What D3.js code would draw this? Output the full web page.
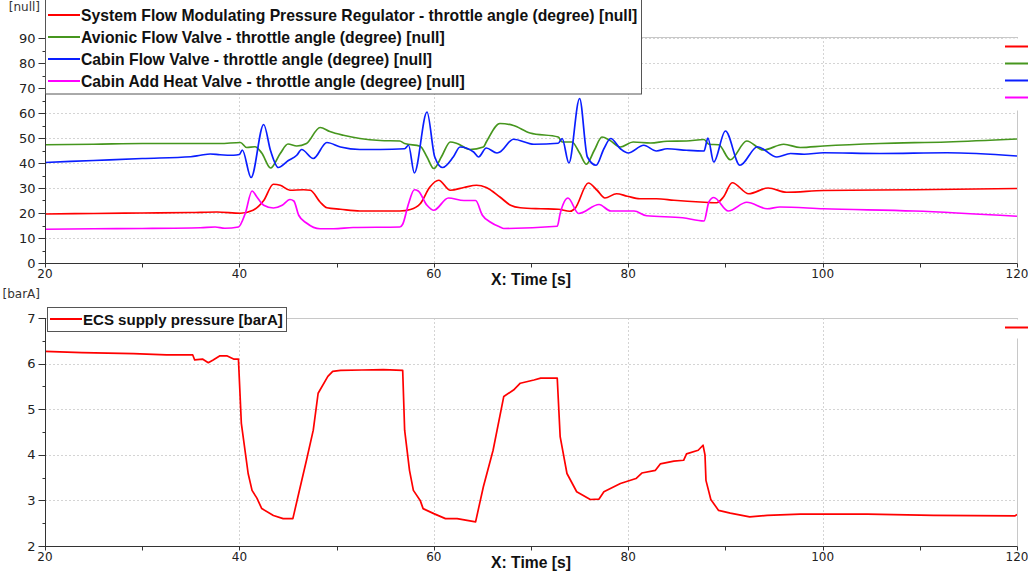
<!DOCTYPE html>
<html>
<head>
<meta charset="utf-8">
<script src="https://cdn.jsdelivr.net/npm/d3@7"></script>
<style>
  body { margin: 0; background: #fff; }
  svg { display: block; font-family: "DejaVu Sans", Verdana, sans-serif; }
  .bold { font-family: "Liberation Sans", Arial, sans-serif; font-weight: bold; }
</style>
</head>
<body>
<div id="chart"></div>
<script>
// --- data: [time s, value] ---
const sfmpr = [[20,19.6],[25,19.8],[30,20.0],[35,20.2],[37.7,20.4],[40.1,19.9],[41.4,21.1],[42.5,25.0],[43.5,31.5],[44.2,31.1],[45.2,29.1],[46.6,29.3],[47.3,29.1],[48.3,24.4],[49.0,22.1],[50.4,21.5],[52.4,20.8],[56.5,20.8],[57.6,21.4],[58.6,23.7],[59.6,30.4],[60.5,33.1],[61.7,29.1],[63.1,30.2],[64.4,31.1],[65.4,30.2],[66.8,26.4],[67.9,23.1],[68.9,22.1],[71.0,21.7],[72.8,21.5],[74.0,20.7],[74.5,21.7],[75.9,32.0],[76.8,29.1],[77.6,26.0],[78.8,27.7],[79.9,26.7],[81.2,25.7],[82.9,25.7],[84.7,25.1],[87.4,24.4],[89.1,24.1],[89.8,26.4],[90.7,32.1],[92.4,27.7],[94.4,30.0],[96.3,28.3],[100.1,29.0],[109.4,29.3],[120,29.8]];
const avionicFlow = [[20,47.3],[25,47.5],[30,47.8],[35,47.8],[38,47.8],[40.1,48.2],[40.75,46.2],[41.6,46.5],[42.3,44.0],[43.2,38.0],[44.2,43.8],[45.0,47.6],[45.9,46.8],[46.9,47.8],[48.3,54.2],[49.3,52.6],[50.7,51.1],[52.4,49.8],[54.5,49.0],[56.5,48.8],[57.0,47.8],[58.6,46.7],[59.3,42.4],[60.0,37.8],[60.8,42.6],[61.7,48.4],[62.4,47.8],[63.7,45.4],[65.1,46.4],[65.4,48.4],[66.8,55.8],[68.2,55.0],[69.9,52.0],[72.8,50.4],[73.2,48.4],[74.2,48.4],[75.0,44.0],[75.7,39.5],[76.5,45.0],[77.3,50.4],[78.1,49.1],[79.2,46.4],[80.5,48.4],[82.3,48.0],[84.0,48.7],[86.0,48.8],[87.8,49.4],[88.3,47.5],[89.3,47.3],[90.5,41.3],[92.2,48.8],[93.9,45.2],[96.0,47.5],[97.7,46.2],[100.1,46.8],[105.9,47.8],[112.8,48.4],[120,49.6]];
const cabinFlow = [[20,40.2],[25,41.0],[30,41.8],[35,42.5],[36,43.1],[37,43.6],[38,43.3],[39.4,43.1],[40.0,43.4],[40.3,45.2],[41.2,34.2],[42.5,55.4],[43.2,45.0],[44.0,38.2],[45.0,40.9],[45.9,43.1],[46.4,45.4],[47.6,41.8],[49.0,48.2],[50.4,46.4],[52.4,45.4],[54.5,45.4],[57.0,45.7],[57.4,47.1],[58.0,36.0],[59.3,60.4],[60.1,42.4],[60.9,38.2],[62.0,42.4],[62.7,46.4],[64.1,44.4],[64.6,42.4],[65.4,46.0],[66.5,44.0],[66.8,44.4],[68.2,49.5],[70.3,47.5],[72.8,47.9],[73.2,49.8],[73.9,40.0],[75.0,65.8],[75.8,42.4],[76.7,39.1],[77.5,45.7],[78.2,49.8],[79.2,45.7],[80.0,44.0],[81.6,47.1],[82.9,44.8],[84.0,45.7],[86.0,45.1],[87.8,44.8],[88.2,50.0],[88.8,40.4],[90.0,52.8],[91.5,39.1],[93.3,46.5],[95.3,42.4],[96.7,43.8],[98.1,43.5],[100.1,44.1],[105.9,43.8],[112.8,44.1],[120,42.8]];
const cabinAddHeat = [[20,13.5],[25,13.7],[30,13.8],[36,14.1],[37.5,14.4],[38.5,13.9],[39.9,14.4],[40.6,19.8],[41.3,28.8],[41.8,26.4],[42.5,23.1],[43.5,22.0],[44.4,23.1],[45.2,25.4],[45.6,24.8],[46.1,19.1],[46.9,16.0],[48.3,13.7],[49.7,13.7],[51.7,14.2],[56.5,14.4],[56.8,15.5],[57.4,23.7],[58.0,29.3],[58.4,28.8],[59.3,23.1],[60.0,21.1],[61.5,26.0],[63.1,25.0],[64.3,25.0],[65.0,19.1],[65.8,16.4],[66.8,14.4],[67.2,13.8],[72.7,14.7],[73.0,19.8],[73.8,26.0],[74.9,19.8],[77.0,23.4],[78.2,20.8],[80.6,20.8],[81.9,18.9],[85.6,18.1],[87.8,16.8],[88.3,24.4],[88.8,26.2],[90.3,20.8],[92.2,24.3],[94.3,21.7],[95.6,22.4],[100.1,21.7],[109.4,20.8],[120,18.7]];
const ecsPressure = [[20,6.27],[23.8,6.24],[29.1,6.22],[32.5,6.19],[35.2,6.19],[35.4,6.08],[36.2,6.10],[36.8,6.02],[37.3,6.08],[38.0,6.17],[38.7,6.17],[39.4,6.10],[39.9,6.10],[40.2,4.69],[40.9,3.59],[41.3,3.22],[41.8,3.05],[42.3,2.82],[43.5,2.67],[44.5,2.60],[45.5,2.60],[46.1,3.15],[46.9,3.88],[47.6,4.54],[48.1,5.35],[49.1,5.72],[49.6,5.83],[50.4,5.85],[52.6,5.86],[54.8,5.87],[56.8,5.85],[57.0,4.54],[57.5,3.66],[57.9,3.22],[58.6,3.00],[58.9,2.82],[60.0,2.71],[61.2,2.60],[62.4,2.60],[64.3,2.53],[65.1,3.30],[66.1,4.10],[67.2,5.28],[68.2,5.42],[68.9,5.57],[70.3,5.64],[71.0,5.68],[72.7,5.68],[73.0,4.40],[73.7,3.59],[74.7,3.19],[76.1,3.02],[77.0,3.03],[77.5,3.19],[79.2,3.37],[80.8,3.48],[81.4,3.60],[82.8,3.66],[83.3,3.80],[84.7,3.86],[85.7,3.88],[86.0,4.02],[87.2,4.10],[87.7,4.21],[87.9,4.00],[88.0,3.44],[88.5,3.02],[89.3,2.78],[90.5,2.72],[92.5,2.64],[94.3,2.67],[97.7,2.70],[104.6,2.70],[111.4,2.67],[119.8,2.66],[120,2.69]];

const xTicks = [20, 40, 60, 80, 100, 120];
const topYTicks = [0, 10, 20, 30, 40, 50, 60, 70, 80, 90];
const botYTicks = [2, 3, 4, 5, 6, 7];
const topNames = [
  "System Flow Modulating Pressure Regulator - throttle angle (degree) [null]",
  "Avionic Flow Valve - throttle angle (degree) [null]",
  "Cabin Flow Valve - throttle angle (degree) [null]",
  "Cabin Add Heat Valve - throttle angle (degree) [null]"
];
const botNames = ["ECS supply pressure [barA]"];
const topColors = ["#ff0000", "#46961e", "#0a1eff", "#ff00ff"];
const botColors = ["#ff0000"];

// --- svg ---
const width = 1028, height = 571;
const svg = d3.select("#chart").append("svg")
  .attr("width", width).attr("height", height);

const x = d3.scaleLinear().domain([20, 120]).range([45, 1017]);

// font size so that a bold text is w pixels wide
function fitSize(text, w) {
  const probe = svg.append("text").attr("class", "bold").attr("font-size", 15).text(text);
  const len = probe.node().getComputedTextLength();
  probe.remove();
  return Math.min(16, 15 * w / len);
}

// --- one panel ---
function drawPanel(opt) {
  const y = d3.scaleLinear().domain(opt.domain).range([opt.bottom, opt.top]);
  const g = svg.append("g");
  const id = "clip" + opt.top;

  svg.append("clipPath").attr("id", id).append("rect")
    .attr("x", 45).attr("y", opt.top).attr("width", 972).attr("height", opt.bottom - opt.top);

  // grid
  g.append("g").selectAll("line").data(opt.yTicks.slice(1)).join("line")
    .attr("x1", 45).attr("x2", 1017)
    .attr("y1", d => Math.round(y(d)) + 0.5).attr("y2", d => Math.round(y(d)) + 0.5)
    .attr("stroke", "#d4d4d4").attr("stroke-dasharray", "2,2");
  g.append("g").selectAll("line").data(xTicks.slice(1, -1)).join("line")
    .attr("x1", d => Math.round(x(d)) + 0.5).attr("x2", d => Math.round(x(d)) + 0.5)
    .attr("y1", opt.top).attr("y2", opt.bottom)
    .attr("stroke", "#d4d4d4").attr("stroke-dasharray", "2,2");

  // frame: top + right light, left + bottom dark
  g.append("line").attr("x1", 45).attr("x2", 1017.5)
    .attr("y1", opt.top + 0.5).attr("y2", opt.top + 0.5).attr("stroke", "#c8c8c8");
  g.append("line").attr("x1", 1017.5).attr("x2", 1017.5)
    .attr("y1", opt.top).attr("y2", opt.bottom).attr("stroke", "#c8c8c8");

  // series
  const line = d3.line().x(d => x(d[0])).y(d => y(d[1])).curve(opt.curve);
  g.append("g").attr("clip-path", `url(#${id})`)
    .selectAll("path").data(opt.series).join("path")
    .attr("d", d => line(d)).attr("fill", "none")
    .attr("stroke", (d, i) => opt.colors[i]).attr("stroke-width", 1.7)
    .attr("stroke-linejoin", "round");

  // y axis
  const yAxis = g.append("g").attr("transform", "translate(45.5,0)");
  yAxis.append("line").attr("y1", opt.top).attr("y2", opt.bottom + 0.5).attr("stroke", "#333");
  yAxis.selectAll("line.maj").data(opt.yTicks).join("line").attr("class", "maj")
    .attr("x1", -7).attr("x2", 0)
    .attr("y1", d => Math.round(y(d)) + 0.5).attr("y2", d => Math.round(y(d)) + 0.5)
    .attr("stroke", "#333");
  const minor = d3.range(opt.domain[0] + opt.minorStep, opt.yTicks[opt.yTicks.length - 1], opt.minorStep * 2);
  yAxis.selectAll("line.min").data(minor).join("line").attr("class", "min")
    .attr("x1", -3).attr("x2", 0)
    .attr("y1", d => Math.round(y(d)) + 0.5).attr("y2", d => Math.round(y(d)) + 0.5)
    .attr("stroke", "#333");
  yAxis.selectAll("text").data(opt.yTicks).join("text")
    .attr("x", -10).attr("y", d => y(d)).attr("dy", "0.36em")
    .attr("text-anchor", "end").attr("font-size", 13).attr("fill", "#222")
    .text(d => d);

  // x axis
  const xAxis = g.append("g").attr("transform", `translate(0,${opt.bottom + 0.5})`);
  xAxis.append("line").attr("x1", 45).attr("x2", 1017.5).attr("stroke", "#333");
  xAxis.selectAll("line.t").data(d3.range(20, 121, 10)).join("line").attr("class", "t")
    .attr("x1", d => Math.round(x(d)) + 0.5).attr("x2", d => Math.round(x(d)) + 0.5)
    .attr("y1", 0).attr("y2", 4).attr("stroke", "#333");
  xAxis.selectAll("text").data(xTicks).join("text")
    .attr("x", d => x(d)).attr("y", 14)
    .attr("text-anchor", "middle").attr("font-size", 12).attr("fill", "#222")
    .text(d => d);
  xAxis.append("text").attr("class", "bold").attr("x", 531).attr("y", 21)
    .attr("text-anchor", "middle").attr("font-size", fitSize("X: Time [s]", 80))
    .attr("fill", "#111").text("X: Time [s]");

  // unit label
  g.append("text").attr("x", 40).attr("y", opt.unitY).attr("text-anchor", "end")
    .attr("font-size", 12).attr("fill", "#333").text(opt.unit);

  // legend cut at the right edge
  g.append("rect").attr("x", 1003).attr("y", opt.top + 1.5)
    .attr("width", 30).attr("height", opt.rightBoxH).attr("fill", "#fff");
  g.selectAll("line.rl").data(opt.names).join("line").attr("class", "rl")
    .attr("x1", 1005).attr("x2", 1030)
    .attr("y1", (d, i) => opt.top + 9.5 + i * 17).attr("y2", (d, i) => opt.top + 9.5 + i * 17)
    .attr("stroke", (d, i) => opt.colors[i]).attr("stroke-width", 2);

  // legend box
  const lg = g.append("g");
  const size = fitSize(opt.names[0], opt.legend.textW);
  lg.append("rect").attr("x", opt.legend.x + 0.5).attr("y", opt.legend.y + 0.5)
    .attr("width", opt.legend.w).attr("height", opt.legend.h)
    .attr("fill", "#fff").attr("stroke", "#555");
  opt.names.forEach((name, i) => {
    const cy = opt.legend.row0 + i * 22;
    lg.append("line").attr("x1", opt.legend.x + 3).attr("x2", opt.legend.x + 35)
      .attr("y1", cy).attr("y2", cy).attr("stroke", opt.colors[i]).attr("stroke-width", 2);
    lg.append("text").attr("class", "bold").attr("x", opt.legend.x + 36).attr("y", cy + 5.5)
      .attr("font-size", size).attr("fill", "#111")
      .text(name);
  });
}

drawPanel({
  top: 37, bottom: 263, domain: [0, 90.4], yTicks: topYTicks, minorStep: 5,
  series: [sfmpr, avionicFlow, cabinFlow, cabinAddHeat], colors: topColors, names: topNames,
  curve: d3.curveMonotoneX, unit: "[null]", unitY: 11, rightBoxH: 72,
  legend: { x: 45, y: -6, w: 596, h: 99.5, row0: 15, textW: 557 }
});
drawPanel({
  top: 318, bottom: 546, domain: [2, 7], yTicks: botYTicks, minorStep: 0.5,
  series: [ecsPressure], colors: botColors, names: botNames,
  curve: d3.curveLinear, unit: "[barA]", unitY: 298, rightBoxH: 19,
  legend: { x: 47, y: 307, w: 239, h: 24, row0: 319, textW: 200 }
});
</script>
</body>
</html>
